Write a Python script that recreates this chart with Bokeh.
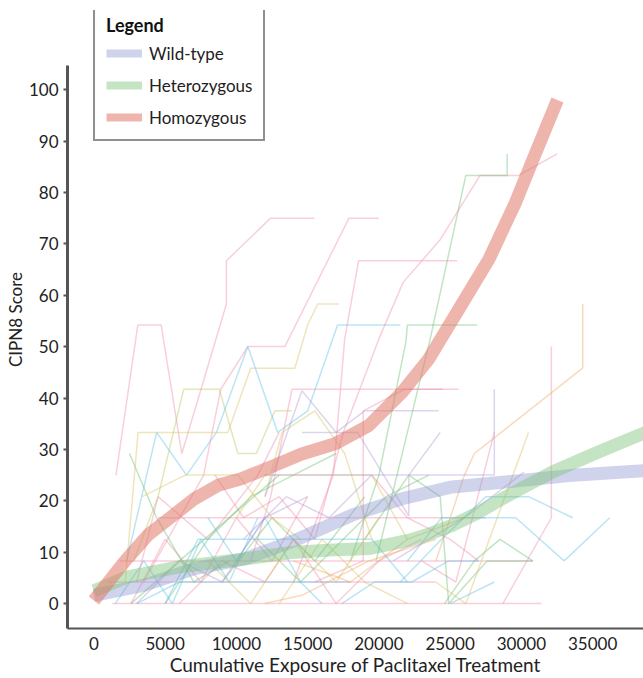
from bokeh.plotting import figure
from bokeh.models import Range1d, Legend, LegendItem, FixedTicker, ColumnDataSource
from bokeh.embed import file_html
from bokeh.resources import INLINE

# ---- smoothed group curves (exposure, CIPN8 score) ----
wt_x = [0, 3540, 7060, 10590, 14110, 16460, 18100, 21620, 25140, 28660, 33350, 38730]
wt_y = [1.6, 3.6, 6.8, 8.7, 12.3, 15.2, 17.2, 20.4, 22.7, 23.6, 24.9, 25.9]

het_x = [0, 2370, 5890, 10590, 14110, 16500, 19270, 22090, 23600, 25140, 26900, 28660, 30400, 32180, 35400, 38730]
het_y = [2.5, 5.2, 7.1, 8.7, 10.0, 10.4, 10.7, 12.3, 13.6, 15.2, 17.6, 20.4, 23.0, 25.6, 29.5, 33.3]

hom_x = [0, 2130, 3780, 7060, 8710, 10350, 12700, 14580, 16920, 19270, 21620, 23500, 25610, 27720, 29580, 31000, 32530]
hom_y = [0.6, 8.1, 13.3, 20.4, 23.0, 24.3, 26.9, 29.1, 31.1, 34.6, 41.1, 47.6, 57.3, 67.0, 78.0, 87.7, 98.0]

# ---- individual patient trajectories, grouped by colour ----
pink_lines = [
    ([1550, 3080, 4720, 6170, 9300, 9300, 12400, 15470], [25, 54.2, 54.2, 29.2, 58.3, 66.7, 75, 75]),
    ([3500, 7700, 8900, 10800, 13400, 17900, 20000], [4.2, 25, 41.7, 50, 50, 75, 75]),
    ([14000, 16800, 17600, 18570, 25500], [4.2, 25, 51.5, 66.7, 66.7]),
    ([15500, 17500, 20000, 21700, 24300, 27100, 29800, 32500], [12.5, 33.3, 51.5, 62.5, 70.8, 83.3, 83.3, 87.5]),
    ([11000, 12400, 13900, 25600], [8.3, 20.8, 41.7, 41.7]),
    ([28700, 32100, 32100], [0, 16.7, 50]),
    ([23000, 25400, 28100], [8.3, 4.2, 33.3]),
    ([1300, 31400], [0, 0]),
    ([1800, 30800], [8.3, 8.3]),
    ([4500, 27500], [16.7, 16.7]),
    ([15500, 18900, 18900, 21800, 24500], [4.2, 8.3, 37.5, 41.7, 41.7]),
    ([2600, 5000, 7500, 10000, 12500, 15000], [0, 12.5, 4.2, 16.7, 8.3, 20.8]),
    ([6000, 9000, 12000, 14000, 17000, 20000, 23000], [0, 8.3, 4.2, 12.5, 0, 8.3, 12.5]),
    ([3000, 4500, 8000, 11500, 13000], [4.2, 20.8, 12.5, 25, 33.3]),
    ([1000, 24000], [4.2, 4.2]),
    ([19500, 22000, 25000, 27000], [25, 16.7, 12.5, 8.3]),
    ([8500, 10500, 13000, 15500], [25, 16.7, 20.8, 12.5]),
]
green_lines = [
    ([18000, 20000, 21900, 22000, 26900], [8.3, 25, 51, 54.2, 54.2]),
    ([19800, 23600, 26100, 29000, 29000], [8.3, 51.5, 83.3, 83.3, 87.5]),
    ([2500, 4400, 7000, 9500], [29.2, 16.7, 4.2, 8.3]),
    ([19000, 22100, 24300, 24900, 27600, 30800], [12.5, 25, 20.8, 0, 8.3, 8.3]),
    ([5000, 8000, 11000, 14000, 17000], [0, 12.5, 20.8, 25, 29.2]),
    ([9000, 12500, 15500, 19000], [4.2, 16.7, 8.3, 20.8]),
    ([2600, 6000, 9500, 13000], [0, 8.3, 16.7, 25]),
    ([24600, 26700, 28500, 30800], [0, 8.3, 12.5, 8.3]),
    ([11500, 14500, 17500, 20500, 23500], [12.5, 4.2, 12.5, 20.8, 25]),
]
olive_lines = [
    ([2800, 4500, 6300, 8800, 10100, 11400, 12700, 13900], [8.3, 20.8, 41.7, 41.7, 29.2, 29.2, 37.5, 37.5]),
]
cyan_lines = [
    ([2300, 4400, 6500, 8600, 10800, 12900, 15000, 17100, 21500], [8.3, 33.3, 25, 33.3, 50, 33.3, 37.5, 54.2, 54.2]),
    ([22000, 24400, 29600, 33000, 36200], [8.3, 16.7, 16.7, 8.3, 16.7]),
    ([21500, 24400, 27500, 30500, 33600], [4.2, 12.5, 20.8, 20.8, 16.7]),
    ([5000, 7300, 13500, 19500, 22000], [0, 12.5, 12.5, 12.5, 4.2]),
    ([3000, 6000, 18000], [0, 4.2, 4.2]),
    ([17400, 19700, 22300, 24900, 27000], [0, 4.2, 4.2, 8.3, 8.3]),
    ([1500, 3500, 5500, 7500, 9500, 11500], [0, 8.3, 0, 12.5, 4.2, 16.7]),
    ([25000, 28100], [0, 4.2]),
    ([8000, 10000, 12000, 14500, 16000], [16.7, 8.3, 16.7, 4.2, 0]),
]
yellow_lines = [
    ([2200, 3100, 9400, 11000, 14100, 15000, 15700, 17200], [4.2, 33.3, 33.3, 45.8, 45.8, 54.2, 58.3, 58.3]),
    ([3400, 6400, 10100, 12500, 14500], [20.8, 25, 25, 16.7, 12.5]),
    ([24000, 26100, 30500], [4.2, 0, 33.3]),
    ([10000, 12000, 19500, 22000], [16.7, 25, 25, 12.5]),
    ([12000, 13200, 15500, 17600, 19500], [20.8, 33.3, 37.5, 29.2, 12.5]),
    ([8000, 11000, 14000, 17000, 20000], [8.3, 0, 12.5, 4.2, 16.7]),
    ([13000, 16000, 19000, 22000], [0, 12.5, 4.2, 0]),
]
orange_lines = [
    ([24000, 26000, 26700, 34300, 34300], [8.3, 25, 29.2, 45.8, 58.3]),
    ([12000, 14600, 19300, 24000], [0, 1.6, 8.3, 12.5]),
    ([14000, 18000, 22000, 26000], [8.3, 4.2, 12.5, 16.7]),
]
lav_lines = [
    ([12000, 28100, 28100], [25, 25, 41.7]),
    ([14600, 18500, 22100, 22100, 24300], [33.3, 33.3, 17, 25, 33.3]),
    ([12000, 14600, 17000, 19000, 24200], [20.8, 41.4, 33.3, 37.5, 37.5]),
    ([21000, 26000, 30200], [8.3, 16.7, 25.6]),
    ([3000, 6000, 9000, 12000, 15000], [0, 8.3, 4.2, 16.7, 20.8]),
    ([10500, 13500, 16500, 19500], [12.5, 20.8, 16.7, 25]),
]

x_ticks = [0, 5000, 10000, 15000, 20000, 25000, 30000, 35000]
y_ticks = [0, 10, 20, 30, 40, 50, 60, 70, 80, 90, 100]
series_names = ["Wild-type", "Heterozygous", "Homozygous"]

FONT = "Lato"

p = figure(width=643, height=678, x_range=Range1d(-1853, 38568), y_range=Range1d(-4.85, 115.4),
           min_border_left=67, min_border_right=0, min_border_top=10, min_border_bottom=48,
           output_backend="svg", toolbar_location=None)
p.outline_line_color = None
p.grid.visible = False
p.background_fill_color = "white"

groups = [
    (pink_lines, "#f08cab"),
    (green_lines, "#6cc070"),
    (olive_lines, "#b9c95a"),
    (cyan_lines, "#5bc0e6"),
    (yellow_lines, "#d9c060"),
    (orange_lines, "#f0a860"),
    (lav_lines, "#b399d4"),
]
for lines, col in groups:
    src = ColumnDataSource(dict(xs=[l[0] for l in lines], ys=[l[1] for l in lines]))
    p.multi_line(xs="xs", ys="ys", source=src, line_color=col, line_alpha=0.42, line_width=1.5)

curve_styles = [("#8c96d0", 0.42), ("#7cc47a", 0.45), ("#e0786a", 0.55)]
curves = [(wt_x, wt_y), (het_x, het_y), (hom_x, hom_y)]
for (cx, cy), (col, a) in zip(curves, curve_styles):
    p.line(cx, cy, line_color=col, line_alpha=a, line_width=13, line_join="round")

# legend proxies: single-point lines (draw nothing in the plot) with a thinner stroke
items = []
for name, (cx, cy), (col, a) in zip(series_names, curves, curve_styles):
    r = p.line(cx[:1], cy[:1], line_color=col, line_alpha=a, line_width=8)
    items.append(LegendItem(label=name, renderers=[r]))

legend = Legend(items=items, location=(26, 487), title="Legend",
                title_text_font=FONT, title_text_font_style="bold", title_text_font_size="18px",
                title_text_color="#111", title_standoff=6,
                label_text_font=FONT, label_text_font_size="17px", label_text_color="#222",
                glyph_width=36, glyph_height=22, label_height=22, spacing=10,
                padding=11, label_standoff=7, margin=0,
                border_line_color="#222", border_line_width=2, background_fill_alpha=1)
p.add_layout(legend)

for ax in (p.xaxis, p.yaxis):
    ax.axis_line_color = "#555"
    ax.major_label_text_font = FONT
    ax.major_label_text_font_size = "17px"
    ax.major_label_text_color = "#222"
    ax.minor_tick_line_color = None
    ax.axis_label_text_font = FONT
    ax.axis_label_text_font_style = "normal"
    ax.axis_label_text_color = "#222"

p.xaxis.ticker = FixedTicker(ticks=x_ticks)
p.yaxis.ticker = FixedTicker(ticks=y_ticks)
p.xaxis.axis_line_width = 2
p.yaxis.axis_line_width = 3
p.xaxis.major_tick_line_color = None
p.xaxis.major_tick_in = 0
p.xaxis.major_tick_out = 0
p.xaxis.major_label_standoff = 8
p.xaxis.axis_label = "Cumulative Exposure of Paclitaxel Treatment"
p.xaxis.axis_label_text_font_size = "19px"
p.xaxis.axis_label_standoff = 0
p.yaxis.major_tick_in = 0
p.yaxis.major_tick_out = 4
p.yaxis.major_tick_line_color = "#555"
p.yaxis.major_tick_line_width = 2
p.yaxis.major_label_standoff = 5
p.yaxis.bounds = (-4.85, 104.75)
p.yaxis.axis_label = "CIPN8 Score"
p.yaxis.axis_label_text_font_size = "17px"
p.yaxis.axis_label_standoff = 0

open("out.html", "w").write(file_html(p, INLINE))
